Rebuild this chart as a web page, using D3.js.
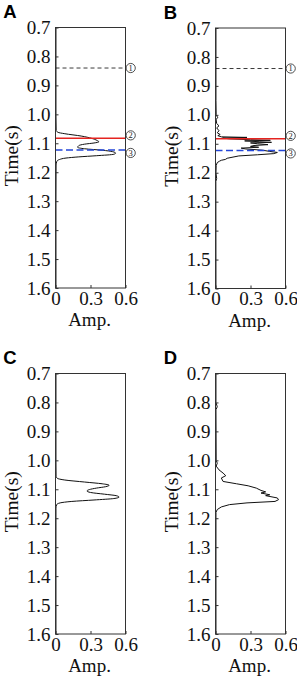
<!DOCTYPE html>
<html lang="en">
<head>
<meta charset="UTF-8">
<title>Amplitude traces</title>
<style>
  * { margin: 0; box-sizing: border-box; }
  body { width: 297px; height: 680px; background: #fff; overflow: hidden; }
  svg { display: block; }
  .tick text { font-family: "Liberation Serif", "Times New Roman", serif; font-size: 19px; fill: #111; }
  .axis path, .axis line { stroke: #333; }
</style>
</head>
<body>
<svg id="chart" width="297" height="680"></svg>
<script src="https://cdn.jsdelivr.net/npm/d3@7/dist/d3.min.js"></script>
<script>
// data: [time (s), amplitude]
const traceA = [[0.70,0.004],[1.00,0.004],[1.055,0.006],[1.062,0.02],[1.067,0.08],[1.075,0.22],[1.083,0.31],
  [1.090,0.355],[1.095,0.372],[1.099,0.33],[1.103,0.25],[1.108,0.2],[1.114,0.19],[1.119,0.25],[1.124,0.4],
  [1.129,0.49],[1.134,0.515],[1.138,0.5],[1.143,0.35],[1.147,0.2],[1.151,0.09],[1.156,0.035],[1.162,0.012],
  [1.175,0.005],[1.30,0.004],[1.60,0.004]];

const traceB = [[0.70,0.004],[0.95,0.004],[1.00,0.006],[1.01,0.02],[1.015,0.005],[1.03,0.01],[1.038,0.03],
  [1.045,0.01],[1.055,0.03],[1.062,0.015],[1.068,0.04],[1.072,0.02],[1.076,0.05],[1.078,0.27],[1.080,0.06],
  [1.083,0.12],[1.086,0.3],[1.088,0.47],[1.090,0.25],[1.093,0.38],[1.095,0.48],[1.097,0.3],[1.100,0.36],
  [1.103,0.45],[1.106,0.33],[1.109,0.3],[1.112,0.37],[1.115,0.22],[1.118,0.26],[1.122,0.4],[1.126,0.46],
  [1.130,0.53],[1.134,0.5],[1.138,0.36],[1.142,0.2],[1.146,0.15],[1.150,0.1],[1.154,0.085],[1.157,0.05],
  [1.160,0.035],[1.165,0.015],[1.175,0.006],[1.20,0.004],[1.22,0.01],[1.23,0.003],[1.60,0.004]];

const traceC = [[0.70,0.004],[1.00,0.004],[1.055,0.005],[1.062,0.015],[1.068,0.08],[1.075,0.25],[1.081,0.4],
  [1.086,0.46],[1.091,0.43],[1.096,0.35],[1.101,0.29],[1.106,0.27],[1.111,0.3],[1.117,0.42],[1.122,0.52],
  [1.127,0.545],[1.132,0.5],[1.137,0.33],[1.142,0.14],[1.147,0.04],[1.153,0.01],[1.165,0.004],[1.60,0.004]];

const traceD = [[0.70,0.004],[0.80,0.004],[0.815,0.015],[0.825,0.004],[1.00,0.006],[1.01,0.015],[1.02,0.006],
  [1.033,0.03],[1.044,0.065],[1.053,0.088],[1.061,0.05],[1.073,0.065],[1.081,0.18],[1.088,0.28],[1.096,0.35],
  [1.104,0.39],[1.109,0.43],[1.113,0.39],[1.119,0.465],[1.122,0.43],[1.130,0.53],[1.136,0.54],[1.142,0.51],
  [1.147,0.27],[1.153,0.12],[1.161,0.05],[1.170,0.015],[1.180,0.004],[1.60,0.004]];

const timeTicks = [0.7, 0.8, 0.9, 1.0, 1.1, 1.2, 1.3, 1.4, 1.5, 1.6];
const ampTicks = [0, 0.3, 0.6];
const markerTimes = [0.84, 1.083, 1.123]; // ①, ②, ③
const markerLabels = ["1", "2", "3"];

const panels = [
  { letter: "A", data: traceA, markers: true,  smooth: true,  left: 55.5,  top: 27.5,  lx: 3.3,   tx: 18 },
  { letter: "B", data: traceB, markers: true,  smooth: false, left: 215.5, top: 28,    lx: 163.7, tx: 178 },
  { letter: "C", data: traceC, markers: false, smooth: true,  left: 55.5,  top: 373.5, lx: 3.3,   tx: 18 },
  { letter: "D", data: traceD, markers: false, smooth: false, left: 215.5, top: 373.5, lx: 163.7, tx: 178 }
];
const w = 70, h = 260.5;

const svg = d3.select("#chart");

panels.forEach(p => {
  const g = svg.append("g").attr("transform", `translate(${p.left},${p.top})`);
  const x = d3.scaleLinear().domain([0, 0.6]).range([0, w]);
  const y = d3.scaleLinear().domain([0.7, 1.6]).range([0, h]);

  // panel letter
  svg.append("text")
    .attr("x", p.lx).attr("y", p.top - 9.5)
    .attr("font-family", "'Liberation Sans', Arial, sans-serif")
    .attr("font-weight", "bold").attr("font-size", 18.5)
    .text(p.letter);

  // axis titles
  svg.append("text")
    .attr("transform", `translate(${p.tx},${p.top + h / 2 - 2}) rotate(-90)`)
    .attr("text-anchor", "middle")
    .attr("font-family", "'Liberation Serif', 'Times New Roman', serif")
    .attr("font-size", 19.5).attr("fill", "#111")
    .text("Time(s)");

  g.append("text")
    .attr("x", w / 2 - 1).attr("y", h + 38)
    .attr("text-anchor", "middle")
    .attr("font-family", "'Liberation Serif', 'Times New Roman', serif")
    .attr("font-size", 19).attr("fill", "#111")
    .text("Amp.");

  if (p.markers) {
    g.append("line")
      .attr("x1", 0).attr("x2", w)
      .attr("y1", y(markerTimes[0])).attr("y2", y(markerTimes[0]))
      .attr("stroke", "#222").attr("stroke-width", 0.9).attr("stroke-dasharray", "4,3");
  }

  // trace
  const line = d3.line()
    .x(d => x(d[1]))
    .y(d => y(d[0]))
    .curve(p.smooth ? d3.curveMonotoneY : d3.curveLinear);
  g.append("path")
    .datum(p.data)
    .attr("d", line)
    .attr("fill", "none")
    .attr("stroke", "#111")
    .attr("stroke-width", 1);

  if (p.markers) {
    g.append("line")
      .attr("x1", 0).attr("x2", w)
      .attr("y1", y(markerTimes[1])).attr("y2", y(markerTimes[1]))
      .attr("stroke", "#e52420").attr("stroke-width", 1.5);
    g.append("line")
      .attr("x1", 0).attr("x2", w)
      .attr("y1", y(markerTimes[2])).attr("y2", y(markerTimes[2]))
      .attr("stroke", "#2346d8").attr("stroke-width", 1.5).attr("stroke-dasharray", "7,3.5");

    const offs = [0, -3, 3];
    markerTimes.forEach((t, i) => {
      const cy = y(t) + offs[i];
      g.append("circle")
        .attr("cx", w + 5.2).attr("cy", cy).attr("r", 4.6)
        .attr("fill", "#fff").attr("stroke", "#222").attr("stroke-width", 0.8);
      g.append("text")
        .attr("x", w + 5.2).attr("y", cy + 2.9)
        .attr("text-anchor", "middle")
        .attr("font-family", "'Liberation Serif', serif")
        .attr("font-size", 8.5).attr("fill", "#222")
        .text(markerLabels[i]);
    });
  }

  // box
  g.append("rect")
    .attr("width", w).attr("height", h)
    .attr("fill", "none").attr("stroke", "#333").attr("stroke-width", 1);

  g.append("g").attr("class", "axis")
    .call(d3.axisLeft(y).tickValues(timeTicks).tickFormat(d3.format(".1f"))
      .tickSizeInner(-3).tickSizeOuter(0).tickPadding(5));

  g.append("g").attr("class", "axis")
    .attr("transform", `translate(0,${h})`)
    .call(d3.axisBottom(x).tickValues(ampTicks).tickFormat(d => d === 0 ? "0" : d3.format(".1f")(d))
      .tickSizeInner(-3).tickSizeOuter(0).tickPadding(3));

  g.selectAll(".axis .domain").remove();
});
</script>
</body>
</html>
